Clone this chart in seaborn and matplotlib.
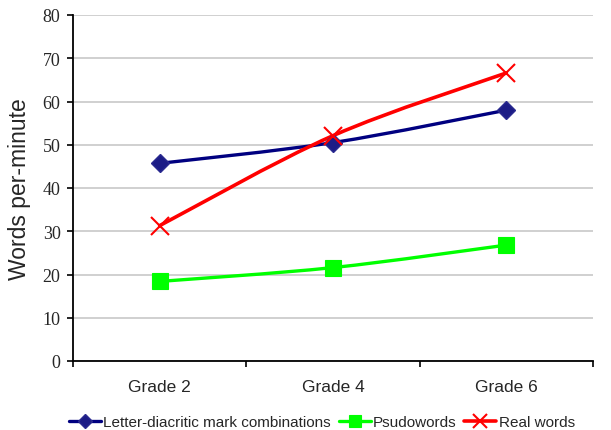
import numpy as np
import matplotlib
matplotlib.use("Agg")
import matplotlib.pyplot as plt
from matplotlib.path import Path
from matplotlib.patches import PathPatch
from matplotlib.lines import Line2D
import seaborn as sns

# Reading speed by grade
grades = ["Grade 2", "Grade 4", "Grade 6"]
letter_diacritic = [45.7, 50.5, 58.0]
psudowords = [18.4, 21.6, 26.8]
real_words = [31.3, 52.1, 66.6]
series_names = ["Letter-diacritic mark combinations", "Psudowords", "Real words"]
y_ticks = list(range(0, 90, 10))

series_values = [letter_diacritic, psudowords, real_words]
styles = [
    dict(color="#000080", mfc="#1c1c86", mec="#2a2a90", marker="D", ms=9, mew=1.0, lw=2.4),
    dict(color="#00FF00", mfc="#00FF00", mec="#00FF00", marker="s", ms=11, mew=0.8, lw=2.4),
    dict(color="#FF0000", mfc="#FF0000", mec="#FF0000", marker="x", ms=12.5, mew=1.5, lw=2.6),
]

sns.set_theme(style="white")
plt.rcParams["font.family"] = ["Liberation Sans", "DejaVu Sans"]

fig = plt.figure(figsize=(6.11, 4.31), dpi=100)
ax = fig.add_axes([73 / 611, 1 - 362 / 431, (593 - 73) / 611, (362 - 16) / 431])


def smooth_path(xs, ys):
    """Cubic Bezier path through the points (Catmull-Rom style smoothing)."""
    pts = np.column_stack([xs, ys]).astype(float)
    n = len(pts)
    verts = [pts[0]]
    codes = [Path.MOVETO]
    for i in range(n - 1):
        p0 = pts[i - 1] if i > 0 else pts[i]
        p1 = pts[i]
        p2 = pts[i + 1]
        p3 = pts[i + 2] if i + 2 < n else pts[i + 1]
        c1 = p1 + (p2 - p0) / 6.0
        c2 = p2 - (p3 - p1) / 6.0
        verts += [c1, c2, p2]
        codes += [Path.CURVE4] * 3
    return Path(verts, codes)


positions = np.arange(len(grades))
handles = []
for name, vals, st in zip(series_names, series_values, styles):
    ax.add_patch(PathPatch(smooth_path(positions, vals), fill=False,
                           edgecolor=st["color"], lw=st["lw"],
                           capstyle="round", joinstyle="round", zorder=3))
    sns.lineplot(x=grades, y=vals, ax=ax, linestyle="", marker=st["marker"],
                 markersize=st["ms"], markerfacecolor=st["mfc"],
                 markeredgecolor=st["mec"], markeredgewidth=st["mew"],
                 color=st["color"], zorder=4, legend=False)
    handles.append(Line2D([], [], color=st["color"], lw=st["lw"], marker=st["marker"],
                          markersize=st["ms"] * 0.75, markerfacecolor=st["mfc"],
                          markeredgecolor=st["mec"], markeredgewidth=st["mew"]))

ax.set_xlim(-0.5, len(grades) - 0.5)
ax.set_ylim(0, 80)
ax.set_yticks(y_ticks)
ax.set_yticklabels([str(t) for t in y_ticks])
for lab in ax.get_yticklabels():
    lab.set_fontfamily("Liberation Serif")
    lab.set_fontsize(13)

ax.set_xticks(np.arange(len(grades) + 1) - 0.5)
ax.set_xticklabels([])
ax.set_xticks(positions, minor=True)
ax.set_xticklabels(grades, minor=True, fontsize=12.5)
ax.tick_params(axis="x", which="major", bottom=True, direction="out", length=4,
               width=1.2, color="black")
ax.tick_params(axis="x", which="minor", bottom=True, length=0, pad=13)
ax.tick_params(axis="y", left=True, direction="out", length=4, width=1.2,
               color="black", pad=5)
ax.set_xlabel("")
ax.set_ylabel("Words per-minute", fontsize=16.5)
ax.yaxis.set_label_coords(-42 / 520, 0.5)

ax.yaxis.grid(True, color="#C4C4C4", lw=1.1)
ax.xaxis.grid(False)
ax.set_axisbelow(True)
for side in ["top", "right"]:
    ax.spines[side].set_visible(False)
for side in ["left", "bottom"]:
    ax.spines[side].set_color("black")
    ax.spines[side].set_linewidth(1.3)

fig.legend(handles, series_names, loc="center", bbox_to_anchor=(322 / 611, 1 - 423 / 431),
           ncol=3, frameon=False, fontsize=11, handlelength=2.1, handletextpad=0.15,
           columnspacing=0.5, borderaxespad=0)

fig.savefig("out.png", dpi=100, facecolor="white")
